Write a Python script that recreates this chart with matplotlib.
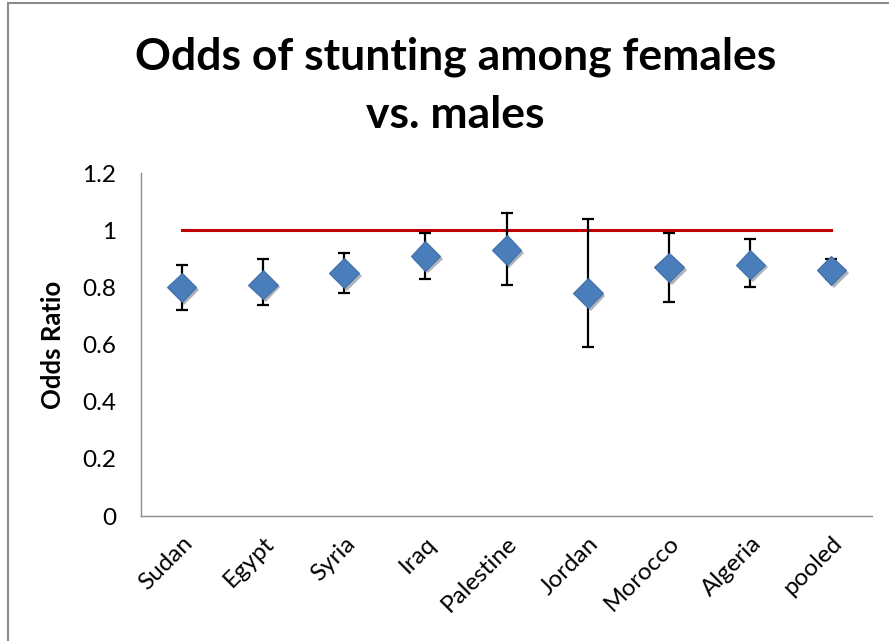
import matplotlib.pyplot as plt
import matplotlib.patheffects as pe
from matplotlib.lines import Line2D

countries = ['Sudan', 'Egypt', 'Syria', 'Iraq', 'Palestine',
             'Jordan', 'Morocco', 'Algeria', 'pooled']
odds_ratio = [0.80, 0.81, 0.85, 0.91, 0.93, 0.78, 0.87, 0.88, 0.86]
ci_lower = [0.72, 0.74, 0.78, 0.83, 0.81, 0.59, 0.75, 0.80, 0.83]
ci_upper = [0.88, 0.90, 0.92, 0.99, 1.06, 1.04, 0.99, 0.97, 0.90]
reference = [1.0] * len(countries)

plt.rcParams['font.family'] = ['Lato', 'DejaVu Sans']

fig = plt.figure(figsize=(8.89, 6.41), dpi=100)
ax = fig.add_axes([0.1586, 0.195, 0.8224, 0.535])

x = list(range(len(countries)))
err_low = [o - l for o, l in zip(odds_ratio, ci_lower)]
err_high = [u - o for o, u in zip(odds_ratio, ci_upper)]

ax.plot(x, reference, color='#C00000', linewidth=2.2, zorder=2)
ax.errorbar(x, odds_ratio, yerr=[err_low, err_high], fmt='none',
            ecolor='black', elinewidth=1.6, capsize=4, capthick=1.6, zorder=3)
ax.plot(x, odds_ratio, linestyle='none', marker='D', markersize=15,
        markerfacecolor='#4A7EBB', markeredgecolor='#3F6FA8', markeredgewidth=0.8,
        zorder=4,
        path_effects=[pe.SimplePatchShadow(offset=(2, -2), alpha=0.35), pe.Normal()])

ax.set_xlim(-0.5, len(countries) - 0.5)
ax.set_ylim(0, 1.2)
ax.set_yticks([0, 0.2, 0.4, 0.6, 0.8, 1.0, 1.2])
ax.set_yticklabels(['0', '0.2', '0.4', '0.6', '0.8', '1', '1.2'])
ax.set_xticks(x)
ax.set_xticklabels(countries, rotation=45, ha='right', va='top',
                   rotation_mode='anchor')
ax.tick_params(axis='both', length=0, labelsize=17.5)
ax.tick_params(axis='y', pad=18)
ax.tick_params(axis='x', pad=12)

for side in ['top', 'right']:
    ax.spines[side].set_visible(False)
for side in ['left', 'bottom']:
    ax.spines[side].set_color('#8C8C8C')
    ax.spines[side].set_linewidth(1.0)

ax.set_ylabel('Odds Ratio', fontsize=18.5, fontweight='bold', labelpad=12)

fig.text(0.512, 0.943, 'Odds of stunting among females\nvs. males',
         ha='center', va='top', fontsize=32, fontweight='bold',
         linespacing=1.55)

# outer chart border (left and top edges)
fig.add_artist(Line2D([0.009, 0.009], [0, 0.995], transform=fig.transFigure,
                      color='#8C8C8C', linewidth=1.5))
fig.add_artist(Line2D([0.009, 1.0], [0.995, 0.995], transform=fig.transFigure,
                      color='#8C8C8C', linewidth=1.5))

fig.savefig('out.png', dpi=100)
